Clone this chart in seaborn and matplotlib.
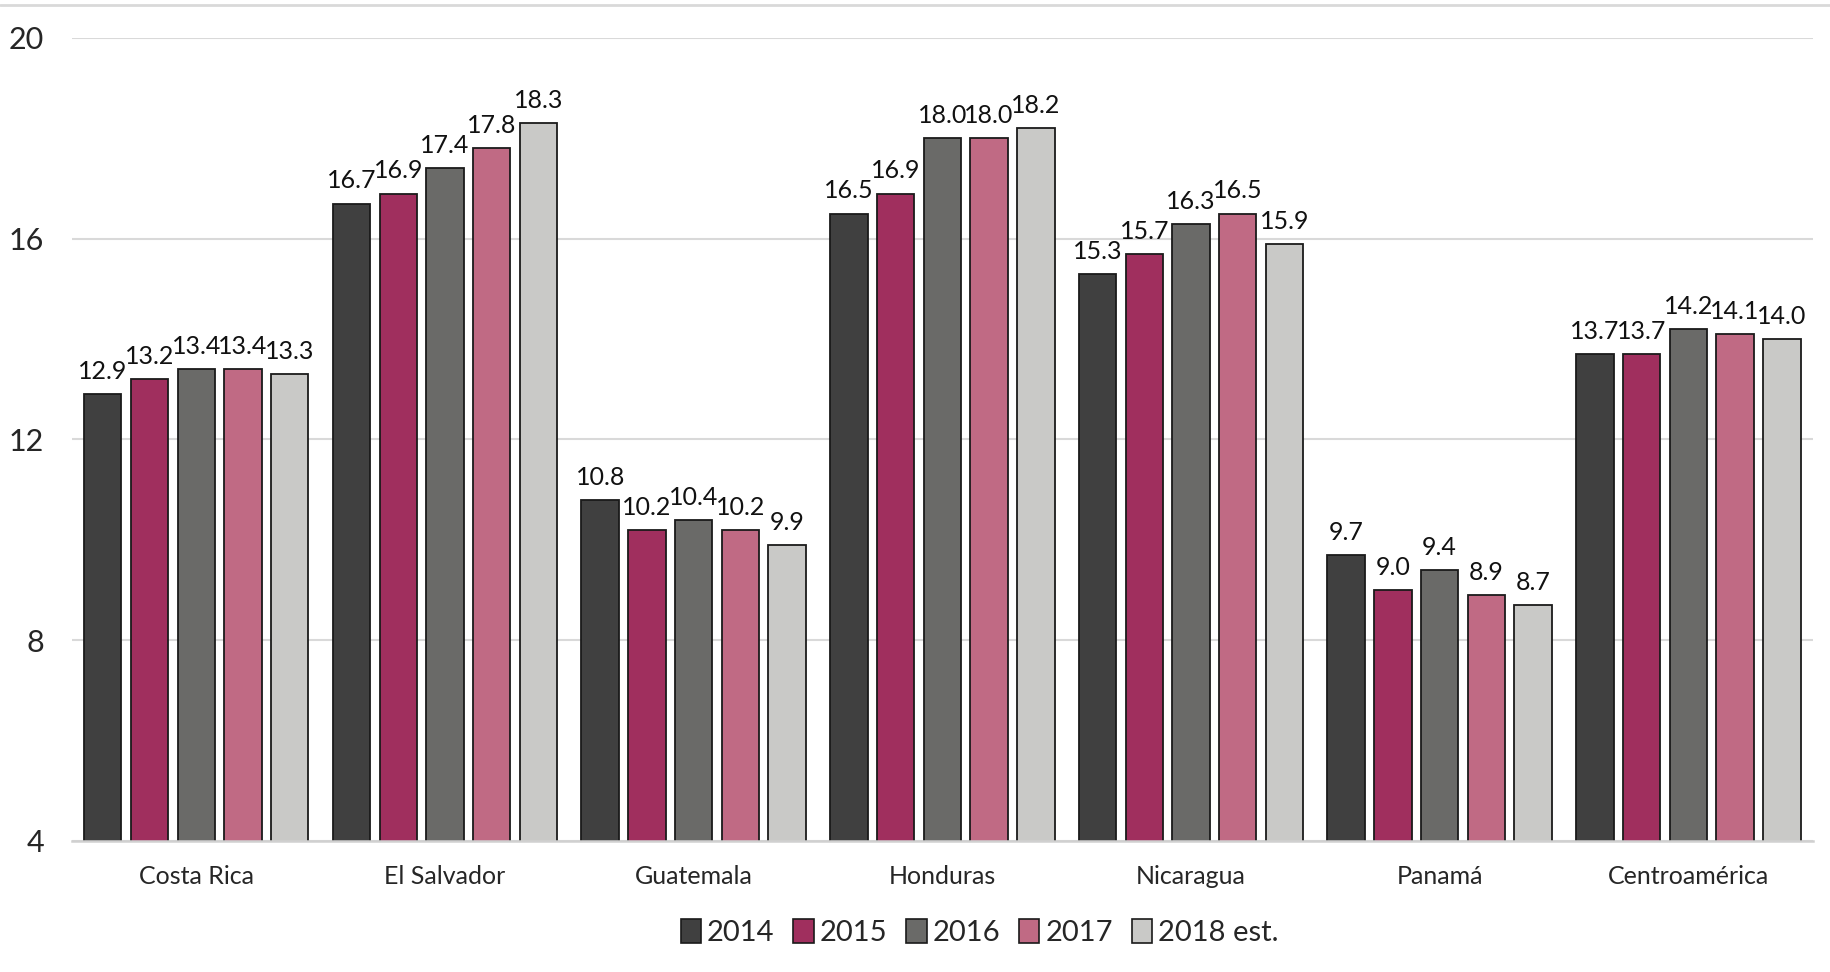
import matplotlib
matplotlib.use("Agg")
import matplotlib.pyplot as plt
import seaborn as sns
import pandas as pd
from matplotlib.lines import Line2D

categories = ["Costa Rica", "El Salvador", "Guatemala", "Honduras", "Nicaragua", "Panamá", "Centroamérica"]
series_names = ["2014", "2015", "2016", "2017", "2018 est."]
v2014 = [12.9, 16.7, 10.8, 16.5, 15.3, 9.7, 13.7]
v2015 = [13.2, 16.9, 10.2, 16.9, 15.7, 9.0, 13.7]
v2016 = [13.4, 17.4, 10.4, 18.0, 16.3, 9.4, 14.2]
v2017 = [13.4, 17.8, 10.2, 18.0, 16.5, 8.9, 14.1]
v2018 = [13.3, 18.3, 9.9, 18.2, 15.9, 8.7, 14.0]
colors = ["#404040", "#A02F5E", "#6A6A68", "#C06A84", "#C9C9C7"]
yticks = [4, 8, 12, 16, 20]

sns.set_theme(style="white")
plt.rcParams["font.family"] = ["Lato", "DejaVu Sans"]

rows = []
for name, vals in zip(series_names, [v2014, v2015, v2016, v2017, v2018]):
    for c, v in zip(categories, vals):
        rows.append({"pais": c, "serie": name, "valor": v})
df = pd.DataFrame(rows)

fig = plt.figure(figsize=(18.31, 9.72), dpi=100)
ax = fig.add_axes([0.0393, 0.1348, 0.9507, 0.8262])

sns.barplot(data=df, x="pais", y="valor", hue="serie", order=categories,
            hue_order=series_names, palette=colors, saturation=1, width=0.94, gap=0.2,
            edgecolor="#1a1a1a", linewidth=1.3, ax=ax, legend=False)

ax.set_ylim(4, 20)
ax.set_xlim(-0.5, 6.5)
ax.set_yticks(yticks)
ax.set_yticklabels([str(t) for t in yticks], fontsize=22)
ax.tick_params(axis="y", length=0, pad=20)
ax.tick_params(axis="x", length=0, pad=17, labelsize=18)
ax.set_xlabel("")
ax.set_ylabel("")
ax.grid(axis="y", color="#d9d9d9", linewidth=1.5)
ax.set_axisbelow(True)
for s in ["top", "right", "left"]:
    ax.spines[s].set_visible(False)
ax.spines["bottom"].set_color("#d0d0d0")
ax.spines["bottom"].set_linewidth(1.8)

for cont in ax.containers:
    ax.bar_label(cont, fmt="%.1f", fontsize=18, padding=8, color="#111111")

handles = [plt.Rectangle((0, 0), 1, 1, facecolor=c, edgecolor="#1a1a1a", linewidth=1.2)
           for c in colors]
fig.legend(handles, series_names, loc="center", bbox_to_anchor=(0.535, 0.041), ncol=5,
           frameon=False, fontsize=21, handlelength=0.7, handleheight=0.9,
           handletextpad=0.2, columnspacing=0.65)

fig.add_artist(Line2D([0, 1], [1 - 5 / 972, 1 - 5 / 972], color="#d9d9d9", linewidth=2,
                      transform=fig.transFigure))

fig.savefig("out.png", dpi=100)
